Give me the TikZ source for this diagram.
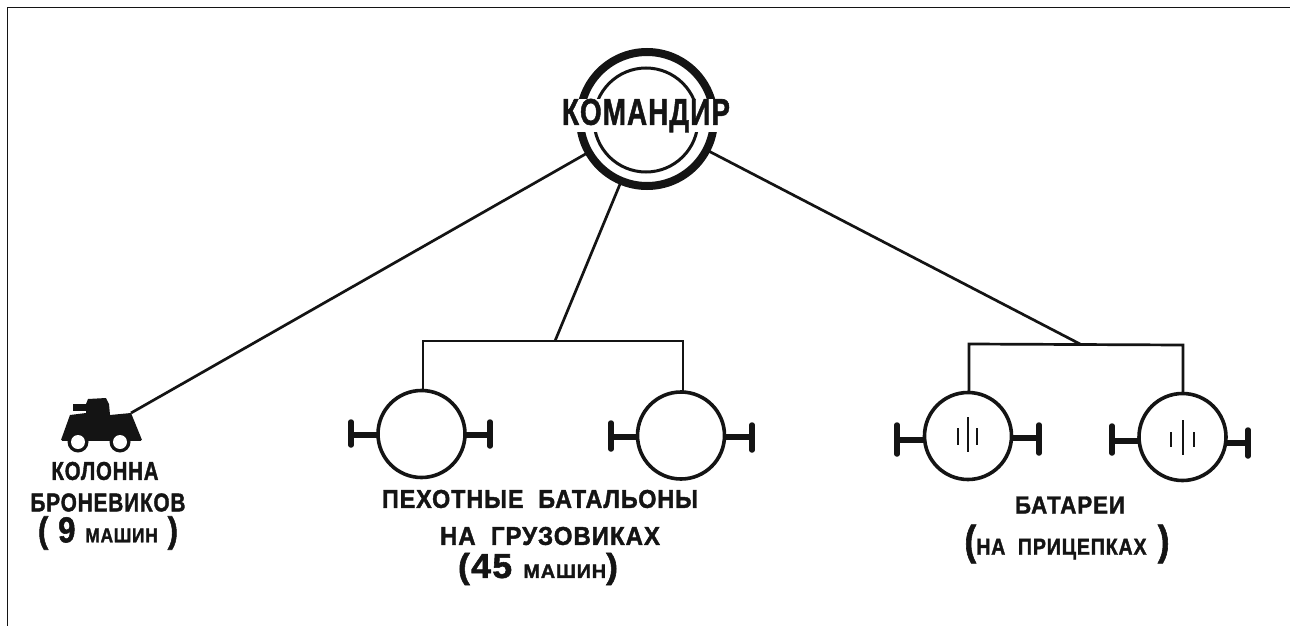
\documentclass[tikz,border=0pt]{standalone}
\usepackage{fontspec}
\setmainfont{Liberation Sans}
\newfontfamily\lab[LetterSpace=4,FakeBold=1.6]{Liberation Sans Bold}
\newcommand{\fitlab}[3]{\resizebox{#1pt}{#2pt}{\lab #3}}
\newcommand{\smalllab}[1]{{\fontsize{5.6}{7}\selectfont #1}}
\definecolor{ink}{HTML}{141414}
\tikzset{
  x=1pt,y=-1pt,
  link/.style={draw=ink,line width=2.7pt},
  armbar/.style={draw=ink,line width=5.5pt},
  endbar/.style={draw=ink,line width=5.5pt,line cap=round},
  unit/.style={circle,draw=ink,line width=3.6pt,fill=white,minimum size=87pt,inner sep=0pt,outer sep=0pt},
  tick/.style={draw=ink,line width=2pt},
  label/.style={text=ink,inner sep=0pt,outer sep=0pt,anchor=center},
}
\begin{document}
\begin{tikzpicture}
\useasboundingbox (0,0) rectangle (1290,626);
\fill[white] (0,0) rectangle (1290,626);
\coordinate (fa) at (1290,8);
\coordinate (fb) at (7,8);
\coordinate (fc) at (7,626);
\draw[ink,line width=1pt] (fa) -- (fb) -- (fc);

% commander
\node[circle,draw=ink,line width=8pt,minimum size=134pt,inner sep=0pt,outer sep=0pt] (cmd) at (647,119) {};
\node[circle,draw=ink,line width=3pt,minimum size=104pt,inner sep=0pt] (cmdin) at (646,120) {};
\node[label,fill=white,minimum width=170pt,minimum height=32pt] (cmdt) at (646,115.5) {\fitlab{168}{26}{КОМАНДИР}};

% armoured car
\coordinate (car) at (131,413);
\fill[ink] (70,415) -- (86,413) -- (86,404) -- (88,399) -- (106,398) -- (109,404) -- (110,415) -- (131,413) -- (142,440) -- (61,440) -- cycle;
\fill[ink] (73,404) -- (88,404) -- (88,411) -- (73,411) -- cycle;
\fill[ink] (62,440) rectangle (141,441);
\fill[ink] (78,442) circle (10.5) (120,442) circle (10.5);
\fill[white] (78,442) circle (7) (120,442) circle (7);

% infantry units
\node[unit] (i1) at (421.5,434) {};
\node[unit] (i2) at (681,435.5) {};
% batteries
\node[unit] (b1) at (968,436) {};
\node[unit] (b2) at (1182.5,437) {};

% buses
\coordinate (ia) at (423,341);
\coordinate (ib) at (683,341);
\coordinate (ij) at (555,341);
\coordinate (ba) at (969,344);
\coordinate (bb) at (1183,345);
\coordinate (bj) at (1080,344);
\draw[link] (i1.north -| ia) -- (ia) -- (ib) -- (i2.north -| ib);
\draw[link] (b1.north -| ba) -- (ba) -- (bb) -- (b2.north -| bb);

% connectors from commander
\draw[link] (cmd) -- (car);
\draw[link] (cmd) -- (ij);
\draw[link] (cmd) -- (bj);

% handles
\coordinate (i1l) at (351,435); \coordinate (i1r) at (490,435);
\coordinate (i2l) at (611,437); \coordinate (i2r) at (752,437);
\coordinate (b1l) at (897,440); \coordinate (b1r) at (1039,438);
\coordinate (b2l) at (1112,441); \coordinate (b2r) at (1248,443);
\draw[armbar] (i1.west |- i1l) -- (i1l);
\draw[armbar] (i1.east |- i1r) -- (i1r);
\draw[armbar] (i2.west |- i2l) -- (i2l);
\draw[armbar] (i2.east |- i2r) -- (i2r);
\draw[armbar] (b1.west |- b1l) -- (b1l);
\draw[armbar] (b1.east |- b1r) -- (b1r);
\draw[armbar] (b2.west |- b2l) -- (b2l);
\draw[armbar] (b2.east |- b2r) -- (b2r);
\draw[endbar] (351,422) -- (351,445);
\draw[endbar] (490,422) -- (490,446);
\draw[endbar] (611,423) -- (611,449);
\draw[endbar] (752,425) -- (752,450);
\draw[endbar] (897,425) -- (897,454);
\draw[endbar] (1039,425) -- (1039,453);
\draw[endbar] (1112,426) -- (1112,453);
\draw[endbar] (1248,430) -- (1248,456);

% battery marks
\draw[tick] (968,417) -- (968,452);
\draw[tick] (958,428) -- (958,445);
\draw[tick] (977,428) -- (977,445);
\draw[tick] (1183,420) -- (1183,455);
\draw[tick] (1171,432) -- (1171,447);
\draw[tick] (1194,432) -- (1194,447);

% labels
\node[label] (t1) at (105,471) {\fitlab{107}{18}{КОЛОННА}};
\node[label] (t2) at (108,502.5) {\fitlab{155}{18}{БРОНЕВИКОВ}};
\node[label] (t3) at (108,533) {\fitlab{140}{26}{( 9 \smalllab{МАШИН} )}};
\node[label] (t4) at (540,499) {\fitlab{316}{18}{ПЕХОТНЫЕ \ БАТАЛЬОНЫ}};
\node[label] (t5) at (550,536) {\fitlab{220}{18}{НА \ ГРУЗОВИКАХ}};
\node[label] (t6) at (538,569) {\fitlab{160}{25}{(45 \smalllab{МАШИН})}};
\node[label] (t7) at (1070,505) {\fitlab{110}{17}{БАТАРЕИ}};
\node[label] (t8) at (1067,544) {\fitlab{205}{30}{(\smalllab{НА \ ПРИЦЕПКАХ} )}};
\end{tikzpicture}
\end{document}
